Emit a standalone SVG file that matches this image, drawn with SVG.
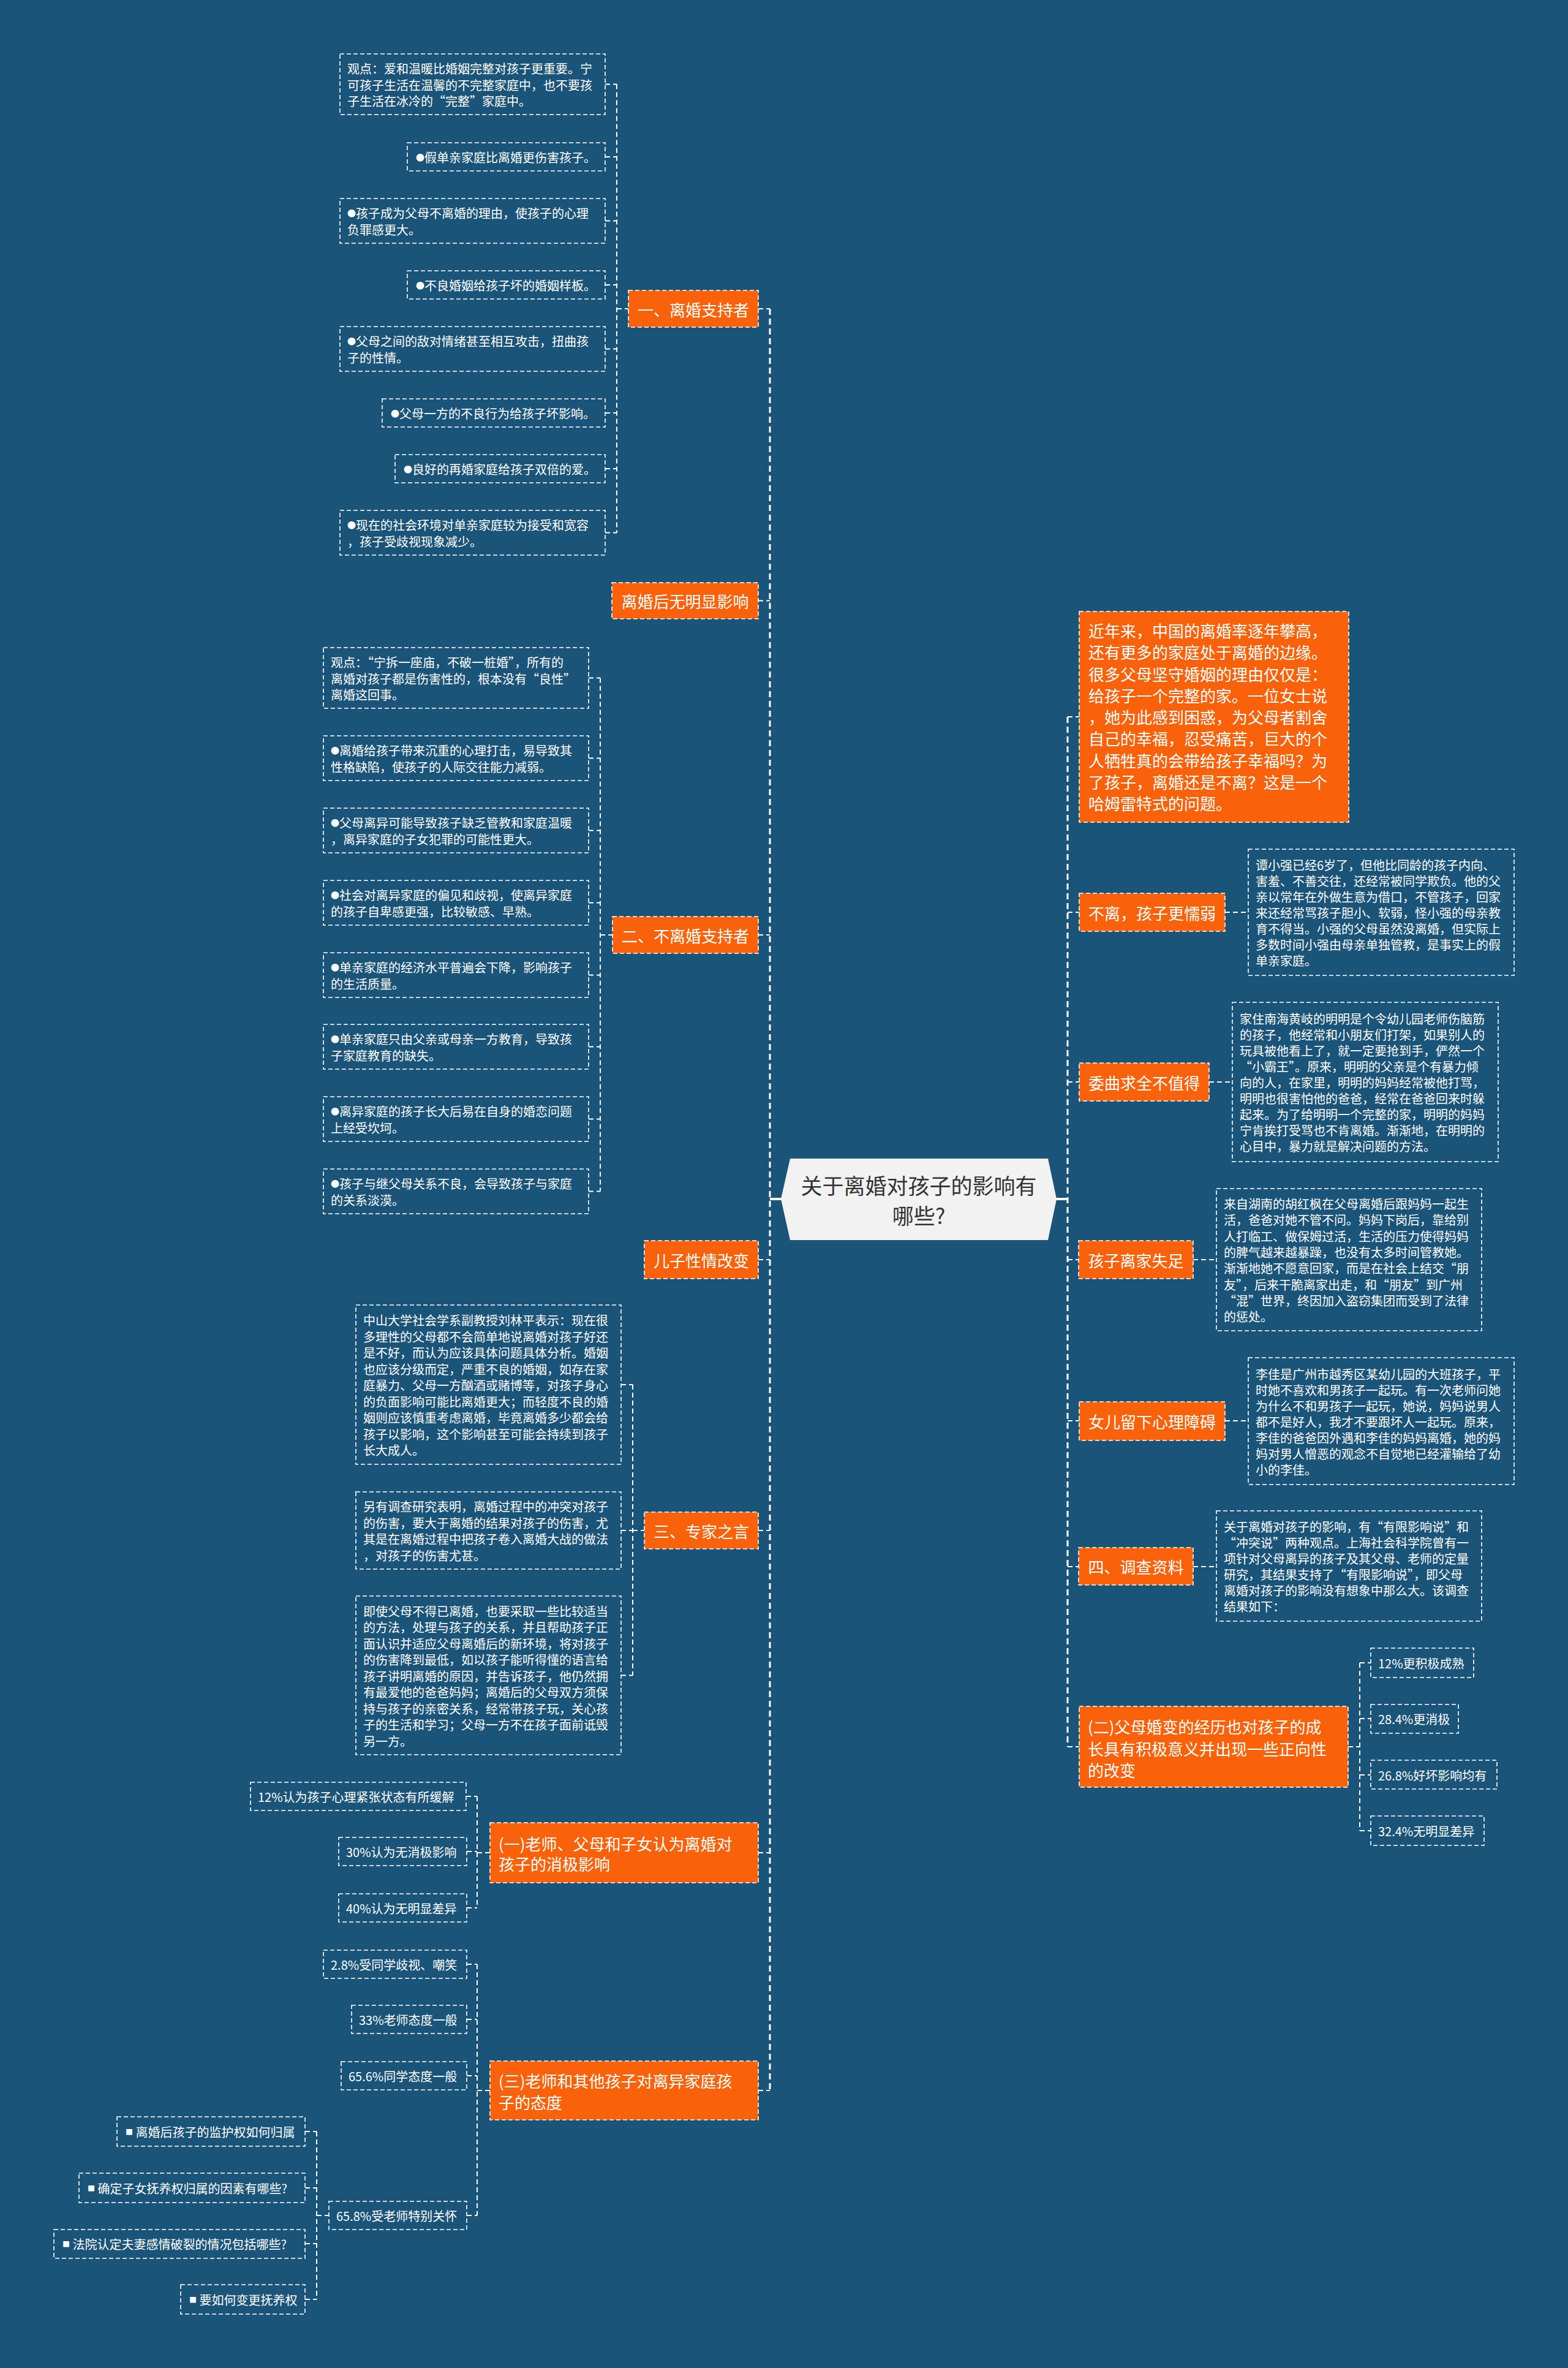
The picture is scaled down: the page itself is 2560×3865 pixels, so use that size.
<svg xmlns="http://www.w3.org/2000/svg" width="2560" height="3865" viewBox="0 0 2560 3865">
<style>
.bg{fill:#1b5479}
.leaf{fill:none;stroke:#fff;stroke-width:1.6;stroke-dasharray:7 4}
.org{fill:#f9620a;stroke:#fff;stroke-width:1.6;stroke-dasharray:7 4}
.c{fill:none;stroke:#fff;stroke-width:2;stroke-dasharray:8 5}
.trunk{fill:none;stroke:#fff;stroke-width:3;stroke-dasharray:10 6}
.solid{fill:none;stroke:#fff;stroke-width:4}
text{font-family:"Noto Sans CJK SC","Noto Sans",sans-serif;dominant-baseline:central;fill:#fff}
.t20{font-size:20px}
.t26{font-size:26px}
.mid{text-anchor:middle}
.ctr{font-size:35px;fill:#333;text-anchor:middle}
.b{font-size:14px}
.sq{font-size:12px}
</style>
<rect class="bg" x="0" y="0" width="2560" height="3865"/>

<g id="connectors">
  <path class="trunk" d="M1257,504 V3412"/>
  <path class="trunk" d="M1743,1170 V2851"/>
  <path class="solid" d="M1257,1957 H1276 M1724,1957 H1743"/>
  <path class="c" d="M1238,504 H1257 M1238,980.5 H1257 M1238,1526 H1257 M1238,2056 H1257 M1238,2498 H1257 M1238,3024 H1257 M1238,3412 H1257"/>
  <path class="c" d="M1743,1170 H1762 M1743,1489 H1762 M1743,1766 H1762 M1743,2056 H1761 M1743,2319 H1762 M1743,2557 H1761 M1743,2851 H1762"/>
  <path class="c" d="M1007,137.5 V869.5 M1007,504 H1026 M988,137.5 H1007 M988,256 H1007 M988,360.5 H1007 M988,465 H1007 M988,569.5 H1007 M988,674 H1007 M988,765 H1007 M988,869.5 H1007"/>
  <path class="c" d="M980,1106.5 V1944.5 M980,1526 H1000 M961,1106.5 H980 M961,1237.5 H980 M961,1355.5 H980 M961,1473.5 H980 M961,1591.5 H980 M961,1708.5 H980 M961,1826.5 H980 M961,1944.5 H980"/>
  <path class="c" d="M1033,2260 V2734.5 M1033,2498 H1052 M1014,2260 H1033 M1014,2498 H1033 M1014,2734.5 H1033"/>
  <path class="c" d="M779,2932 V3114 M779,3024 H800 M761,2932 H779 M762,3022 H779 M762,3114 H779"/>
  <path class="c" d="M779,3206 V3616 M779,3412 H800 M762,3206 H779 M762,3296 H779 M762,3388 H779 M762,3616 H779"/>
  <path class="c" d="M517,3479 V3753 M517,3616 H537 M498,3479 H517 M498,3571 H517 M498,3662 H517 M498,3753 H517"/>
  <path class="c" d="M2220,2714 V2988 M2201,2851 H2220 M2220,2714 H2238 M2220,2805 H2238 M2220,2897 H2238 M2220,2988 H2238"/>
  <path class="c" d="M2000,1489 H2038 M1974,1766 H2012 M1948,2056 H1986 M2000,2319 H2038 M1948,2557 H1986"/>
</g>

<g id="center">
  <polygon points="1275,1957 1290,1891 1711,1891 1725,1957 1711,2024 1290,2024" fill="#f2f2f2"/>
  <text class="ctr" x="1500" y="1933">关于离婚对孩子的影响有</text>
  <text class="ctr" x="1500" y="1982">哪些?</text>
</g>

<g id="n1"><rect class="org" x="1026" y="474" width="212" height="60"/><text class="t26 mid" x="1132" y="504">一、离婚支持者</text></g>
<g id="n2"><rect class="org" x="999" y="951" width="239" height="59"/><text class="t26 mid" x="1118.5" y="980.5">离婚后无明显影响</text></g>
<g id="n3"><rect class="org" x="1000" y="1496" width="238" height="60"/><text class="t26 mid" x="1119" y="1526">二、不离婚支持者</text></g>
<g id="n4"><rect class="org" x="1052" y="2025" width="186" height="62"/><text class="t26 mid" x="1145" y="2056">儿子性情改变</text></g>
<g id="n5"><rect class="org" x="1052" y="2468" width="186" height="60"/><text class="t26 mid" x="1145" y="2498">三、专家之言</text></g>
<g id="n6"><rect class="org" x="800" y="2975" width="438" height="98"/><text class="t26"><tspan x="814" y="3008">(一)老师、父母和子女认为离婚对</tspan><tspan x="814" y="3041">孩子的消极影响</tspan></text></g>
<g id="n7"><rect class="org" x="800" y="3364" width="438" height="96"/><text class="t26"><tspan x="814" y="3395">(三)老师和其他孩子对离异家庭孩</tspan><tspan x="814" y="3430">子的态度</tspan></text></g>

<g id="a1"><rect class="leaf" x="555" y="88" width="433" height="99"/><text class="t20"><tspan x="567" y="111">观点：爱和温暖比婚姻完整对孩子更重要。宁</tspan><tspan x="567" y="137.5">可孩子生活在温馨的不完整家庭中，也不要孩</tspan><tspan x="567" y="164">子生活在冰冷的“完整”家庭中。</tspan></text></g>
<g id="a2"><rect class="leaf" x="665" y="233" width="323" height="46"/><text class="t20" x="679" y="256"><tspan class="b">●</tspan>假单亲家庭比离婚更伤害孩子。</text></g>
<g id="a3"><rect class="leaf" x="555" y="324" width="433" height="73"/><text class="t20"><tspan x="567" y="347.25"><tspan class="b">●</tspan>孩子成为父母不离婚的理由，使孩子的心理</tspan><tspan x="567" y="373.75">负罪感更大。</tspan></text></g>
<g id="a4"><rect class="leaf" x="665" y="442" width="323" height="46"/><text class="t20" x="679" y="465"><tspan class="b">●</tspan>不良婚姻给孩子坏的婚姻样板。</text></g>
<g id="a5"><rect class="leaf" x="555" y="533" width="433" height="73"/><text class="t20"><tspan x="567" y="556.25"><tspan class="b">●</tspan>父母之间的敌对情绪甚至相互攻击，扭曲孩</tspan><tspan x="567" y="582.75">子的性情。</tspan></text></g>
<g id="a6"><rect class="leaf" x="624" y="651" width="364" height="46"/><text class="t20" x="638" y="674"><tspan class="b">●</tspan>父母一方的不良行为给孩子坏影响。</text></g>
<g id="a7"><rect class="leaf" x="645" y="742" width="343" height="46"/><text class="t20" x="659" y="765"><tspan class="b">●</tspan>良好的再婚家庭给孩子双倍的爱。</text></g>
<g id="a8"><rect class="leaf" x="555" y="833" width="433" height="73"/><text class="t20"><tspan x="567" y="856.25"><tspan class="b">●</tspan>现在的社会环境对单亲家庭较为接受和宽容</tspan><tspan x="567" y="882.75">，孩子受歧视现象减少。</tspan></text></g>

<g id="b1"><rect class="leaf" x="528" y="1057" width="433" height="99"/><text class="t20"><tspan x="540" y="1080">观点：“宁拆一座庙，不破一桩婚”，所有的</tspan><tspan x="540" y="1106.5">离婚对孩子都是伤害性的，根本没有“良性”</tspan><tspan x="540" y="1133">离婚这回事。</tspan></text></g>
<g id="b2"><rect class="leaf" x="528" y="1201" width="433" height="73"/><text class="t20"><tspan x="540" y="1224.25"><tspan class="b">●</tspan>离婚给孩子带来沉重的心理打击，易导致其</tspan><tspan x="540" y="1250.75">性格缺陷，使孩子的人际交往能力减弱。</tspan></text></g>
<g id="b3"><rect class="leaf" x="528" y="1319" width="433" height="73"/><text class="t20"><tspan x="540" y="1342.25"><tspan class="b">●</tspan>父母离异可能导致孩子缺乏管教和家庭温暖</tspan><tspan x="540" y="1368.75">，离异家庭的子女犯罪的可能性更大。</tspan></text></g>
<g id="b4"><rect class="leaf" x="528" y="1437" width="433" height="73"/><text class="t20"><tspan x="540" y="1460.25"><tspan class="b">●</tspan>社会对离异家庭的偏见和歧视，使离异家庭</tspan><tspan x="540" y="1486.75">的孩子自卑感更强，比较敏感、早熟。</tspan></text></g>
<g id="b5"><rect class="leaf" x="528" y="1555" width="433" height="73"/><text class="t20"><tspan x="540" y="1578.25"><tspan class="b">●</tspan>单亲家庭的经济水平普遍会下降，影响孩子</tspan><tspan x="540" y="1604.75">的生活质量。</tspan></text></g>
<g id="b6"><rect class="leaf" x="528" y="1672" width="433" height="73"/><text class="t20"><tspan x="540" y="1695.25"><tspan class="b">●</tspan>单亲家庭只由父亲或母亲一方教育，导致孩</tspan><tspan x="540" y="1721.75">子家庭教育的缺失。</tspan></text></g>
<g id="b7"><rect class="leaf" x="528" y="1790" width="433" height="73"/><text class="t20"><tspan x="540" y="1813.25"><tspan class="b">●</tspan>离异家庭的孩子长大后易在自身的婚恋问题</tspan><tspan x="540" y="1839.75">上经受坎坷。</tspan></text></g>
<g id="b8"><rect class="leaf" x="528" y="1908" width="433" height="73"/><text class="t20"><tspan x="540" y="1931.25"><tspan class="b">●</tspan>孩子与继父母关系不良，会导致孩子与家庭</tspan><tspan x="540" y="1957.75">的关系淡漠。</tspan></text></g>

<g id="c1"><rect class="leaf" x="581" y="2130" width="433" height="260"/><text class="t20"><tspan x="593" y="2154">中山大学社会学系副教授刘林平表示：现在很</tspan><tspan x="593" y="2180.5">多理性的父母都不会简单地说离婚对孩子好还</tspan><tspan x="593" y="2207">是不好，而认为应该具体问题具体分析。婚姻</tspan><tspan x="593" y="2233.5">也应该分级而定，严重不良的婚姻，如存在家</tspan><tspan x="593" y="2260">庭暴力、父母一方酗酒或赌博等，对孩子身心</tspan><tspan x="593" y="2286.5">的负面影响可能比离婚更大；而轻度不良的婚</tspan><tspan x="593" y="2313">姻则应该慎重考虑离婚，毕竟离婚多少都会给</tspan><tspan x="593" y="2339.5">孩子以影响，这个影响甚至可能会持续到孩子</tspan><tspan x="593" y="2366">长大成人。</tspan></text></g>
<g id="c2"><rect class="leaf" x="581" y="2435" width="433" height="126"/><text class="t20"><tspan x="593" y="2458.25">另有调查研究表明，离婚过程中的冲突对孩子</tspan><tspan x="593" y="2484.75">的伤害，要大于离婚的结果对孩子的伤害，尤</tspan><tspan x="593" y="2511.25">其是在离婚过程中把孩子卷入离婚大战的做法</tspan><tspan x="593" y="2537.75">，对孩子的伤害尤甚。</tspan></text></g>
<g id="c3"><rect class="leaf" x="581" y="2605" width="433" height="259"/><text class="t20"><tspan x="593" y="2628.5">即使父母不得已离婚，也要采取一些比较适当</tspan><tspan x="593" y="2655">的方法，处理与孩子的关系，并且帮助孩子正</tspan><tspan x="593" y="2681.5">面认识并适应父母离婚后的新环境，将对孩子</tspan><tspan x="593" y="2708">的伤害降到最低，如以孩子能听得懂的语言给</tspan><tspan x="593" y="2734.5">孩子讲明离婚的原因，并告诉孩子，他仍然拥</tspan><tspan x="593" y="2761">有最爱他的爸爸妈妈；离婚后的父母双方须保</tspan><tspan x="593" y="2787.5">持与孩子的亲密关系，经常带孩子玩，关心孩</tspan><tspan x="593" y="2814">子的生活和学习；父母一方不在孩子面前诋毁</tspan><tspan x="593" y="2840.5">另一方。</tspan></text></g>

<g id="d1"><rect class="leaf" x="409" y="2909" width="352" height="46"/><text class="t20" x="421" y="2932">12%认为孩子心理紧张状态有所缓解</text></g>
<g id="d2"><rect class="leaf" x="553" y="2999" width="209" height="46"/><text class="t20" x="565" y="3022">30%认为无消极影响</text></g>
<g id="d3"><rect class="leaf" x="553" y="3091" width="209" height="46"/><text class="t20" x="565" y="3114">40%认为无明显差异</text></g>

<g id="e1"><rect class="leaf" x="528" y="3183" width="234" height="46"/><text class="t20" x="540" y="3206">2.8%受同学歧视、嘲笑</text></g>
<g id="e2"><rect class="leaf" x="574" y="3273" width="188" height="46"/><text class="t20" x="586" y="3296">33%老师态度一般</text></g>
<g id="e3"><rect class="leaf" x="557" y="3365" width="205" height="46"/><text class="t20" x="569" y="3388">65.6%同学态度一般</text></g>
<g id="e4"><rect class="leaf" x="537" y="3593" width="225" height="46"/><text class="t20" x="549" y="3616">65.8%受老师特别关怀</text></g>

<g id="f1"><rect class="leaf" x="191" y="3455" width="307" height="48"/><text class="t20" x="205" y="3479"><tspan class="sq">■</tspan> 离婚后孩子的监护权如何归属</text></g>
<g id="f2"><rect class="leaf" x="129" y="3547" width="369" height="48"/><text class="t20" x="143" y="3571"><tspan class="sq">■</tspan> 确定子女抚养权归属的因素有哪些?</text></g>
<g id="f3"><rect class="leaf" x="88" y="3639" width="410" height="47"/><text class="t20" x="102" y="3662"><tspan class="sq">■</tspan> 法院认定夫妻感情破裂的情况包括哪些?</text></g>
<g id="f4"><rect class="leaf" x="295" y="3729" width="203" height="48"/><text class="t20" x="309" y="3753"><tspan class="sq">■</tspan> 要如何变更抚养权</text></g>

<g id="r0"><rect class="org" x="1762" y="998" width="440" height="344"/><text class="t26"><tspan x="1777" y="1028">近年来，中国的离婚率逐年攀高，</tspan><tspan x="1777" y="1063.25">还有更多的家庭处于离婚的边缘。</tspan><tspan x="1777" y="1098.5">很多父母坚守婚姻的理由仅仅是：</tspan><tspan x="1777" y="1133.75">给孩子一个完整的家。一位女士说</tspan><tspan x="1777" y="1169">，她为此感到困惑，为父母者割舍</tspan><tspan x="1777" y="1204.25">自己的幸福，忍受痛苦，巨大的个</tspan><tspan x="1777" y="1239.5">人牺牲真的会带给孩子幸福吗？为</tspan><tspan x="1777" y="1274.75">了孩子，离婚还是不离？这是一个</tspan><tspan x="1777" y="1310">哈姆雷特式的问题。</tspan></text></g>

<g id="r1"><rect class="org" x="1762" y="1458" width="238" height="62"/><text class="t26 mid" x="1881" y="1489">不离，孩子更懦弱</text></g>
<g id="r1l"><rect class="leaf" x="2038" y="1386" width="434" height="206"/><text class="t20"><tspan x="2050" y="1411">谭小强已经6岁了，但他比同龄的孩子内向、</tspan><tspan x="2050" y="1437">害羞、不善交往，还经常被同学欺负。他的父</tspan><tspan x="2050" y="1463">亲以常年在外做生意为借口，不管孩子，回家</tspan><tspan x="2050" y="1489">来还经常骂孩子胆小、软弱，怪小强的母亲教</tspan><tspan x="2050" y="1515">育不得当。小强的父母虽然没离婚，但实际上</tspan><tspan x="2050" y="1541">多数时间小强由母亲单独管教，是事实上的假</tspan><tspan x="2050" y="1567">单亲家庭。</tspan></text></g>

<g id="r2"><rect class="org" x="1762" y="1735" width="212" height="62"/><text class="t26 mid" x="1868" y="1766">委曲求全不值得</text></g>
<g id="r2l"><rect class="leaf" x="2012" y="1636" width="434" height="260"/><text class="t20"><tspan x="2024" y="1662">家住南海黄岐的明明是个令幼儿园老师伤脑筋</tspan><tspan x="2024" y="1688">的孩子，他经常和小朋友们打架，如果别人的</tspan><tspan x="2024" y="1714">玩具被他看上了，就一定要抢到手，俨然一个</tspan><tspan x="2024" y="1740">“小霸王”。原来，明明的父亲是个有暴力倾</tspan><tspan x="2024" y="1766">向的人，在家里，明明的妈妈经常被他打骂，</tspan><tspan x="2024" y="1792">明明也很害怕他的爸爸，经常在爸爸回来时躲</tspan><tspan x="2024" y="1818">起来。为了给明明一个完整的家，明明的妈妈</tspan><tspan x="2024" y="1844">宁肯挨打受骂也不肯离婚。渐渐地，在明明的</tspan><tspan x="2024" y="1870">心目中，暴力就是解决问题的方法。</tspan></text></g>

<g id="r3"><rect class="org" x="1761" y="2025" width="187" height="62"/><text class="t26 mid" x="1854.5" y="2056">孩子离家失足</text></g>
<g id="r3l"><rect class="leaf" x="1986" y="1940" width="433" height="232"/><text class="t20"><tspan x="1998" y="1964">来自湖南的胡红枫在父母离婚后跟妈妈一起生</tspan><tspan x="1998" y="1990.3">活，爸爸对她不管不问。妈妈下岗后，靠给别</tspan><tspan x="1998" y="2016.6">人打临工、做保姆过活，生活的压力使得妈妈</tspan><tspan x="1998" y="2042.9">的脾气越来越暴躁，也没有太多时间管教她。</tspan><tspan x="1998" y="2069.2">渐渐地她不愿意回家，而是在社会上结交“朋</tspan><tspan x="1998" y="2095.5">友”，后来干脆离家出走，和“朋友”到广州</tspan><tspan x="1998" y="2121.8">“混”世界，终因加入盗窃集团而受到了法律</tspan><tspan x="1998" y="2148.1">的惩处。</tspan></text></g>

<g id="r4"><rect class="org" x="1762" y="2288" width="238" height="63"/><text class="t26 mid" x="1881" y="2319.5">女儿留下心理障碍</text></g>
<g id="r4l"><rect class="leaf" x="2038" y="2216" width="434" height="207"/><text class="t20"><tspan x="2050" y="2241.5">李佳是广州市越秀区某幼儿园的大班孩子，平</tspan><tspan x="2050" y="2267.5">时她不喜欢和男孩子一起玩。有一次老师问她</tspan><tspan x="2050" y="2293.5">为什么不和男孩子一起玩，她说，妈妈说男人</tspan><tspan x="2050" y="2319.5">都不是好人，我才不要跟坏人一起玩。原来，</tspan><tspan x="2050" y="2345.5">李佳的爸爸因外遇和李佳的妈妈离婚，她的妈</tspan><tspan x="2050" y="2371.5">妈对男人憎恶的观念不自觉地已经灌输给了幼</tspan><tspan x="2050" y="2397.5">小的李佳。</tspan></text></g>

<g id="r5"><rect class="org" x="1761" y="2526" width="187" height="61"/><text class="t26 mid" x="1854.5" y="2556.5">四、调查资料</text></g>
<g id="r5l"><rect class="leaf" x="1986" y="2466" width="433" height="180"/><text class="t20"><tspan x="1998" y="2491">关于离婚对孩子的影响，有“有限影响说”和</tspan><tspan x="1998" y="2517">“冲突说”两种观点。上海社会科学院曾有一</tspan><tspan x="1998" y="2543">项针对父母离异的孩子及其父母、老师的定量</tspan><tspan x="1998" y="2569">研究，其结果支持了“有限影响说”，即父母</tspan><tspan x="1998" y="2595">离婚对孩子的影响没有想象中那么大。该调查</tspan><tspan x="1998" y="2621">结果如下：</tspan></text></g>

<g id="r6"><rect class="org" x="1762" y="2785" width="439" height="132"/><text class="t26"><tspan x="1776" y="2817">(二)父母婚变的经历也对孩子的成</tspan><tspan x="1776" y="2852.5">长具有积极意义并出现一些正向性</tspan><tspan x="1776" y="2888">的改变</tspan></text></g>
<g id="g1"><rect class="leaf" x="2238" y="2690" width="168" height="48"/><text class="t20" x="2250" y="2714">12%更积极成熟</text></g>
<g id="g2"><rect class="leaf" x="2238" y="2782" width="143" height="47"/><text class="t20" x="2250" y="2805">28.4%更消极</text></g>
<g id="g3"><rect class="leaf" x="2238" y="2873" width="206" height="47"/><text class="t20" x="2250" y="2897">26.8%好坏影响均有</text></g>
<g id="g4"><rect class="leaf" x="2238" y="2964" width="185" height="48"/><text class="t20" x="2250" y="2988">32.4%无明显差异</text></g>
</svg>
